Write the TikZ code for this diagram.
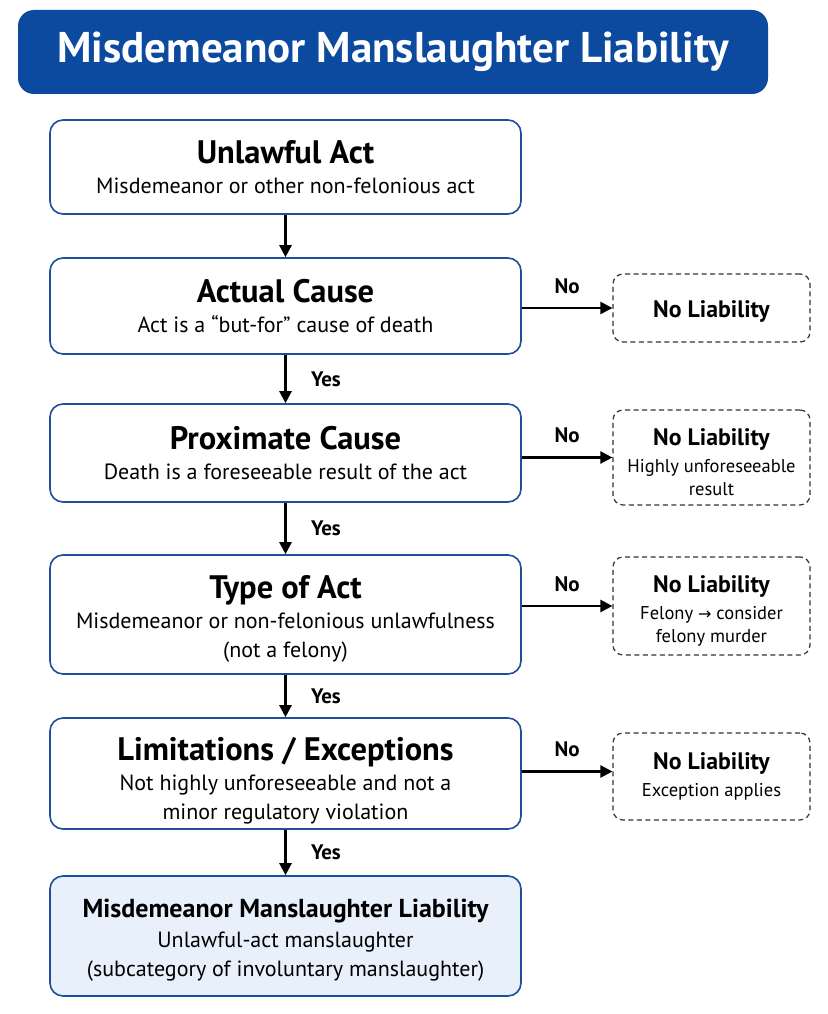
\documentclass[tikz,border=0pt]{standalone}
\usepackage{fontspec}
\setmainfont{PT Sans}
\newfontfamily\arrowfont{DejaVu Sans}
\usetikzlibrary{arrows.meta}
\definecolor{titleblue}{HTML}{0B4A9E}
\definecolor{boxblue}{HTML}{1F4E9C}
\definecolor{finalfill}{HTML}{E7F0FB}
\definecolor{dashgray}{HTML}{333333}
\newcommand\mmhead{\fontsize{32.5}{33}\selectfont\bfseries}
\newcommand\mmsub{\fontsize{22}{29}\selectfont}
\newcommand\mmshead{\fontsize{23.8}{28}\selectfont\bfseries}
\newcommand\mmssub{\fontsize{18.5}{23}\selectfont}
\newcommand\mmtop[1]{\rule{0pt}{#1pt}}
\begin{document}
\begin{tikzpicture}[x=1pt,y=-1pt,
  mainbox/.style={draw=boxblue, line width=1.6pt, rounded corners=13pt, minimum width=471pt, inner sep=0pt, align=center, fill=white, font=\mmsub},
  sidebox/.style={draw=dashgray, dash pattern=on 5pt off 3.5pt, line width=1.2pt, rounded corners=10pt, minimum width=197pt, inner sep=0pt, align=center, font=\mmssub},
  flow/.style={line width=2.4pt, -{Triangle[length=12pt,width=12pt]}},
  lbl/.style={font=\fontsize{21}{24}\selectfont\bfseries}]
\useasboundingbox (0,0) rectangle (827,1014);
\node (title) [fill=titleblue, rounded corners=16pt, minimum width=750pt, minimum height=84pt, text=white, font=\fontsize{43}{48}\selectfont\bfseries] at (393,52) {Misdemeanor Manslaughter Liability};

\node (b1) [mainbox, minimum height=94pt] at (285.5,167) {{\mmhead Unlawful Act}\\[1pt]Misdemeanor or other non-felonious act};
\node (b2) [mainbox, minimum height=96pt] at (285.5,306) {{\mmhead Actual Cause}\\[1pt]Act is a “but-for” cause of death};
\node (b3) [mainbox, minimum height=98pt] at (285.5,453) {{\mmhead Proximate Cause}\\[1pt]Death is a foreseeable result of the act};
\node (b4) [mainbox, minimum height=119pt] at (285.5,614.5) {{\mmhead\mmtop{31.5}Type of Act}\\[1pt]Misdemeanor or non-felonious unlawfulness\\(not a felony)};
\node (b5) [mainbox, minimum height=111pt] at (285.5,773.5) {{\mmhead\mmtop{37.5}Limitations / Exceptions}\\[1pt]Not highly unforeseeable and not a\\minor regulatory violation};
\node (b6) [mainbox, minimum height=120pt, fill=finalfill] at (285.5,936) {{\fontsize{26}{31}\selectfont\bfseries\mmtop{27}Misdemeanor Manslaughter Liability}\\[1pt]Unlawful-act manslaughter\\(subcategory of involuntary manslaughter)};

\node (s1) [sidebox, minimum height=68pt] at (711.5,308) {{\mmshead\mmtop{23}No Liability}};
\node (s2) [sidebox, minimum height=95pt] at (711.5,457.5) {{\mmshead\mmtop{27}No Liability}\\[4pt]Highly unforeseeable\\result};
\node (s3) [sidebox, minimum height=98pt] at (711.5,606) {{\mmshead\mmtop{26}No Liability}\\[4pt]Felony {\arrowfont\fontsize{16}{20}\selectfont →} consider\\felony murder};
\node (s4) [sidebox, minimum height=87pt] at (711.5,776.5) {{\mmshead No Liability}\\[4pt]Exception applies};

\draw[flow] (b1) -- (b2);
\draw[flow] (b2) -- node[lbl, right=21pt] (y1) {Yes} (b3);
\draw[flow] (b3) -- node[lbl, right=21pt] (y2) {Yes} (b4);
\draw[flow] (b4) -- node[lbl, right=21pt] (y3) {Yes} (b5);
\draw[flow] (b5) -- node[lbl, right=21pt] (y4) {Yes} (b6);

\draw[flow] (s1.west -| b2.east) -- node[lbl, above=10pt] (n1) {No} (s1.west);
\draw[flow] (s2.west -| b3.east) -- node[lbl, above=10pt] (n2) {No} (s2.west);
\draw[flow] (s3.west -| b4.east) -- node[lbl, above=10pt] (n3) {No} (s3.west);
\draw[flow] ([yshift=5pt]s4.west -| b5.east) -- node[lbl, above=10pt] (n4) {No} ([yshift=5pt]s4.west);
\end{tikzpicture}
\end{document}
